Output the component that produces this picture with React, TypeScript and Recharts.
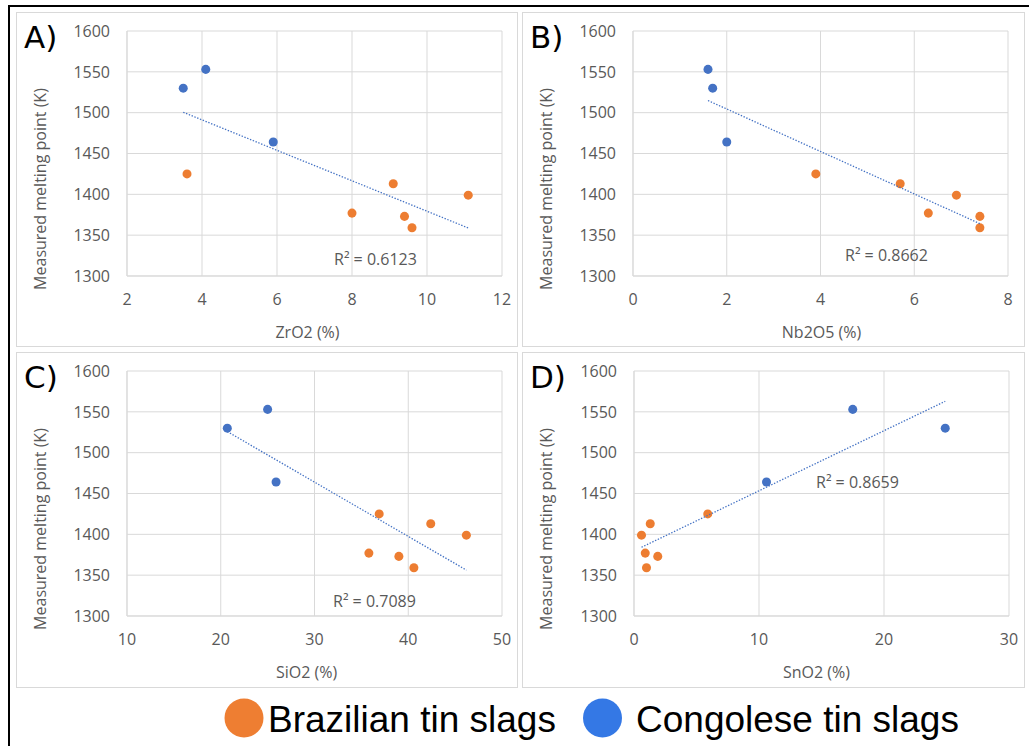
import React from 'react';
import { ScatterChart, Scatter, XAxis, YAxis, ZAxis, CartesianGrid } from 'recharts';

// melting points (K), same sample order in every panel
const brazilMelt = [1425, 1413, 1399, 1377, 1373, 1359];
const congoMelt = [1553, 1530, 1464];

// oxide contents (%), same sample order as above
const zro2Brazil = [3.6, 9.1, 11.1, 8.0, 9.4, 9.6];
const zro2Congo = [4.1, 3.5, 5.9];
const nb2o5Brazil = [3.9, 5.7, 6.9, 6.3, 7.4, 7.4];
const nb2o5Congo = [1.6, 1.7, 2.0];
const sio2Brazil = [36.9, 42.4, 46.2, 35.8, 39.0, 40.6];
const sio2Congo = [25.0, 20.7, 25.9];
const sno2Brazil = [5.9, 1.3, 0.6, 0.9, 1.9, 1.0];
const sno2Congo = [17.5, 24.9, 10.6];

const meltTicks = [1300, 1350, 1400, 1450, 1500, 1550, 1600];
const zro2Ticks = [2, 4, 6, 8, 10, 12];
const nb2o5Ticks = [0, 2, 4, 6, 8];
const sio2Ticks = [10, 20, 30, 40, 50];
const sno2Ticks = [0, 10, 20, 30];

const panelLetters = ['A)', 'B)', 'C)', 'D)'];
const axisTitles = ['ZrO2 (%)', 'Nb2O5 (%)', 'SiO2 (%)', 'SnO2 (%)'];
const r2Labels = ['R\u00b2 = 0.6123', 'R\u00b2 = 0.8662', 'R\u00b2 = 0.7089', 'R\u00b2 = 0.8659'];
const legendNames = ['Brazilian tin slags', 'Congolese tin slags'];

const ORANGE = '#ED7D31';
const BLUE = '#4472C4';
const GRID = '#d9d9d9';
const TEXT = '#595959';
const FONT = '"Open Sans", sans-serif';

const PLOT_W = 375;
const PLOT_H = 245;
const PLOT_TOP = 19;

const panelBoxes = [
  { left: 16, top: 12, width: 502, height: 335, plotLeft: 111, r2x: 318, r2y: 253, titleDx: -7 },
  { left: 522, top: 12, width: 503, height: 335, plotLeft: 111, r2x: 323, r2y: 249, titleDx: 1 },
  { left: 16, top: 352, width: 502, height: 336, plotLeft: 111, r2x: 317, r2y: 255, titleDx: -8 },
  { left: 522, top: 352, width: 503, height: 336, plotLeft: 112, r2x: 294, r2y: 136, titleDx: -5 },
];

type Pt = { x: number; y: number };

const toPoints = (xs: number[], ys: number[]): Pt[] => xs.map((x, i) => ({ x, y: ys[i] }));

// least squares line across both groups, drawn from min x to max x like Excel
function trendOf(pts: Pt[]): Pt[] {
  const n = pts.length;
  const mx = pts.reduce((s, p) => s + p.x, 0) / n;
  const my = pts.reduce((s, p) => s + p.y, 0) / n;
  let sxy = 0;
  let sxx = 0;
  pts.forEach((p) => {
    sxy += (p.x - mx) * (p.y - my);
    sxx += (p.x - mx) * (p.x - mx);
  });
  const slope = sxy / sxx;
  const x0 = Math.min(...pts.map((p) => p.x));
  const x1 = Math.max(...pts.map((p) => p.x));
  return [
    { x: x0, y: my + slope * (x0 - mx) },
    { x: x1, y: my + slope * (x1 - mx) },
  ];
}

const noShape = () => <g />;

interface PanelProps {
  index: number;
  xs: [number[], number[]];
  ticks: number[];
}

function Panel({ index, xs, ticks }: PanelProps) {
  const box = panelBoxes[index];
  const brazil = toPoints(xs[0], brazilMelt);
  const congo = toPoints(xs[1], congoMelt);
  const trend = trendOf([...brazil, ...congo]);
  const rightMargin = box.width - box.plotLeft - PLOT_W;
  const xAxisHeight = box.height - PLOT_TOP - PLOT_H;

  return (
    <div
      style={{
        position: 'absolute',
        left: box.left,
        top: box.top,
        width: box.width,
        height: box.height,
        boxSizing: 'border-box',
        border: `1px solid ${GRID}`,
        background: '#fff',
      }}
    >
      <div style={{ position: 'absolute', left: -1, top: -1 }}>
        <ScatterChart
          width={box.width}
          height={box.height}
          margin={{ top: PLOT_TOP, right: rightMargin, bottom: 0, left: 0 }}
        >
          <CartesianGrid stroke={GRID} strokeWidth={1} />
          <XAxis
            type="number"
            dataKey="x"
            domain={[ticks[0], ticks[ticks.length - 1]]}
            ticks={ticks}
            allowDataOverflow
            height={xAxisHeight}
            tickLine={false}
            tickSize={0}
            tickMargin={18}
            axisLine={{ stroke: GRID }}
            tick={{ fill: TEXT, fontSize: 16, fontFamily: FONT }}
            label={{
              content: (p: any) => {
                const vb = p.viewBox || {};
                return (
                  <text
                    x={vb.x + vb.width / 2 + box.titleDx}
                    y={vb.y + 56}
                    dy="0.36em"
                    textAnchor="middle"
                    fill={TEXT}
                    fontSize={16}
                    fontFamily={FONT}
                  >
                    {axisTitles[index]}
                  </text>
                );
              },
            }}
          />
          <YAxis
            type="number"
            dataKey="y"
            domain={[1300, 1600]}
            ticks={meltTicks}
            allowDataOverflow
            width={box.plotLeft}
            tickLine={false}
            tickSize={0}
            tickMargin={17}
            axisLine={{ stroke: GRID }}
            tick={{ fill: TEXT, fontSize: 16, fontFamily: FONT }}
            label={{
              content: () => (
                <text
                  x={24}
                  y={177}
                  dy="0.36em"
                  transform="rotate(-90 24 177)"
                  textAnchor="middle"
                  fill={TEXT}
                  fontSize={16}
                  fontFamily={FONT}
                >
                  Measured melting point (K)
                </text>
              ),
            }}
          />
          <ZAxis range={[30, 30]} />
          <Scatter data={brazil} fill={ORANGE} isAnimationActive={false} />
          <Scatter data={congo} fill={BLUE} isAnimationActive={false} />
          <Scatter
            data={trend}
            line={{ stroke: BLUE, strokeWidth: 1.3, strokeDasharray: '1.4 1.6' }}
            lineType="joint"
            shape={noShape}
            isAnimationActive={false}
          />
        </ScatterChart>
      </div>
      <svg
        width={box.width}
        height={box.height}
        style={{ position: 'absolute', left: -1, top: -1, pointerEvents: 'none' }}
      >
        <text x={8} y={36} fontSize={31} fontFamily='"DejaVu Sans", sans-serif' fill="#000">
          {panelLetters[index]}
        </text>
        <text x={box.r2x} y={box.r2y} fontSize={16} fontFamily={FONT} fill={TEXT}>
          {r2Labels[index]}
        </text>
      </svg>
    </div>
  );
}

export default function App() {
  return (
    <div
      style={{
        position: 'absolute',
        left: 0,
        top: 0,
        width: 1029,
        height: 746,
        overflow: 'hidden',
        background: '#fff',
      }}
    >
      <div
        style={{
          position: 'absolute',
          left: 8,
          top: 5,
          width: 1200,
          height: 900,
          border: '2px solid #000',
        }}
      />
      <Panel index={0} xs={[zro2Brazil, zro2Congo]} ticks={zro2Ticks} />
      <Panel index={1} xs={[nb2o5Brazil, nb2o5Congo]} ticks={nb2o5Ticks} />
      <Panel index={2} xs={[sio2Brazil, sio2Congo]} ticks={sio2Ticks} />
      <Panel index={3} xs={[sno2Brazil, sno2Congo]} ticks={sno2Ticks} />
      <svg width={1029} height={60} style={{ position: 'absolute', left: 0, top: 690 }}>
        <circle cx={244} cy={28} r={19.5} fill="#EE7E32" />
        <text x={268} y={42} fontSize={37} fontFamily='"Liberation Sans", Arial, sans-serif' fill="#000">
          {legendNames[0]}
        </text>
        <circle cx={602.5} cy={28} r={19.5} fill="#3478E5" />
        <text x={636} y={42} fontSize={37} fontFamily='"Liberation Sans", Arial, sans-serif' fill="#000">
          {legendNames[1]}
        </text>
      </svg>
    </div>
  );
}
